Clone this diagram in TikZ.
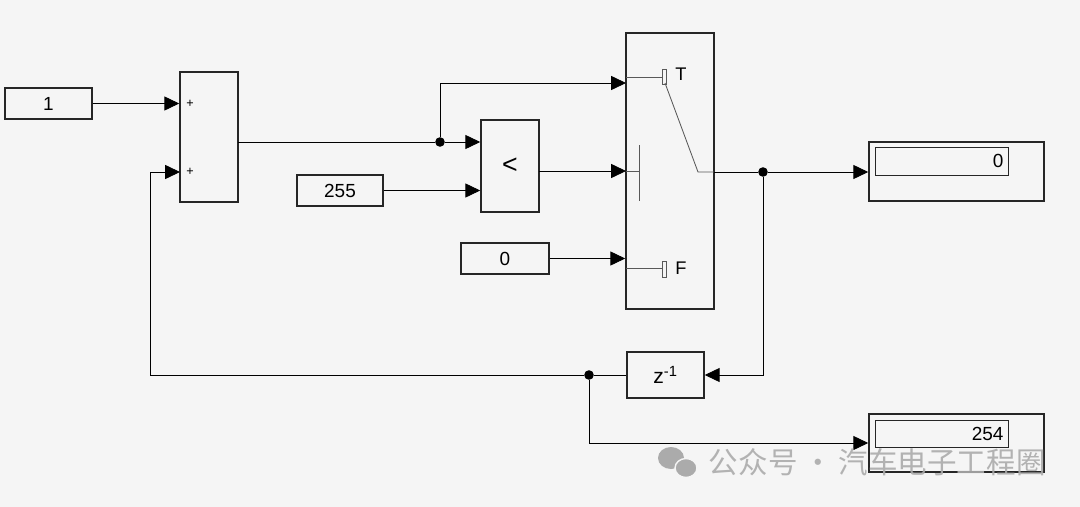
\documentclass[tikz,border=0pt]{standalone}
\usepackage{fontspec}
\setmainfont{Liberation Sans}
\newfontfamily\cjk{Noto Sans CJK SC}
\usetikzlibrary{arrows.meta}
\definecolor{bgc}{HTML}{F5F5F5}
\definecolor{wmk}{HTML}{ABABAB}
\tikzset{
	blk/.style={draw=black!85, line width=1.1pt, fill=bgc, inner sep=0pt, font=\fontsize{13.5}{15}\selectfont},
	val/.style={draw=black!85, line width=0.6pt, fill=bgc, inner sep=3pt, minimum width=3.325cm, text width=3.1cm, align=right, font=\fontsize{13.5}{15}\selectfont},
	sig/.style={line width=0.6pt, -{Triangle[length=0.37cm,width=0.35cm]}},
	wire/.style={line width=0.6pt},
	inner/.style={line width=0.6pt, black!65},
	dot/.style={circle, fill=black, inner sep=0pt, minimum size=0.24cm},
}

\begin{document}
\begin{tikzpicture}[x=0.025cm, y=-0.025cm]
	\fill[bgc] (0,0) rectangle (1080,507);   % canvas

	% blocks
	\node[blk, minimum width=2.175cm, minimum height=0.775cm] (one) at (48.5,103.5) {1};
	\node[blk, minimum width=1.45cm, minimum height=3.25cm] (sum) at (209,137) {};
	\node[font=\fontsize{9}{10}\selectfont] (plus1) at (190,104) {+};
	\node[font=\fontsize{9}{10}\selectfont] (plus2) at (190,172) {+};
	\node[blk, minimum width=2.15cm, minimum height=0.775cm] (cmax) at (340,190.5) {255};
	\node[blk, minimum width=1.45cm, minimum height=2.3cm, font=\fontsize{19}{21}\selectfont] (rel) at (510,166) {<};
	\node[blk, minimum width=2.2cm, minimum height=0.775cm] (czero) at (505,258.5) {0};
	\node[blk, minimum width=2.2cm, minimum height=6.9cm] (sw) at (670,171) {};
	\node[blk, minimum width=4.375cm, minimum height=1.475cm] (disp1) at (956.5,171.5) {};
	\node[val, minimum height=0.7cm] (val1) at (941.5,161) {0};
	\node[blk, minimum width=1.925cm, minimum height=1.15cm, font=\fontsize{15}{17}\selectfont] (dly) at (665.5,375) {z\textsuperscript{-1}};
	\node[blk, minimum width=4.375cm, minimum height=1.45cm] (disp2) at (956.5,443) {};
	\node[val, minimum height=0.66cm] (val2) at (941.5,434) {254};

	% switch inside
	\draw[inner] (626,77) -- (662,77);
	\draw[inner] (662,69) rectangle (666,84);
	\node[font=\fontsize{13}{15}\selectfont] (tlab) at (681,74) {T};
	\draw[inner] (665,83) -- (698,172) -- (714,172);
	\draw[inner] (626,171) -- (639,171);
	\draw[inner] (639,145) -- (639,201);
	\draw[inner] (626,268) -- (662,268);
	\draw[inner] (662,261) rectangle (666,277);
	\node[font=\fontsize{13}{15}\selectfont] (flab) at (681,268) {F};

	% ports and branch points
	\coordinate (sumout) at (238,142);
	\coordinate (sumin2) at (180,172);
	\coordinate (relout) at (539,171);
	\coordinate (swin1) at (626,83);
	\coordinate (swin2) at (626,171);
	\coordinate (swout) at (714,172);
	\coordinate (fb) at (150,375);
	\node[dot] (j1) at (440,142) {};
	\node[dot] (j2) at (763,172) {};
	\node[dot] (j3) at (589,375) {};

	% signals
	\draw[sig] (one.east) -- (one -| sum.west);
	\draw[wire] (sumout) -- (j1);
	\draw[sig] (j1) -- (j1 -| rel.west);
	\draw[sig] (j1) |- (swin1);
	\draw[sig] (cmax.east) -- (cmax -| rel.west);
	\draw[sig] (relout) -- (swin2);
	\draw[sig] (czero.east) -- (czero -| sw.west);
	\draw[wire] (swout) -- (j2);
	\draw[sig] (j2) -- (j2 -| disp1.west);
	\draw[sig] (j2) |- (dly.east);
	\draw[wire] (dly.west) -- (j3);
	\draw[sig] (j3) -- (fb) |- (sumin2);
	\draw[sig] (j3) |- (disp2.west);

	% watermark
	\fill[wmk] (671,458) ellipse (13 and 11);
	\fill[wmk, draw=bgc, line width=1pt] (686,468) ellipse (11 and 9.5);
	\node[text=wmk, opacity=0.9, font=\cjk\fontsize{21}{24}\selectfont, anchor=west] (mark) at (704,462) {公众号\hspace{0.2em}·\hspace{0.2em}汽车电子工程圈};
\end{tikzpicture}
\end{document}
